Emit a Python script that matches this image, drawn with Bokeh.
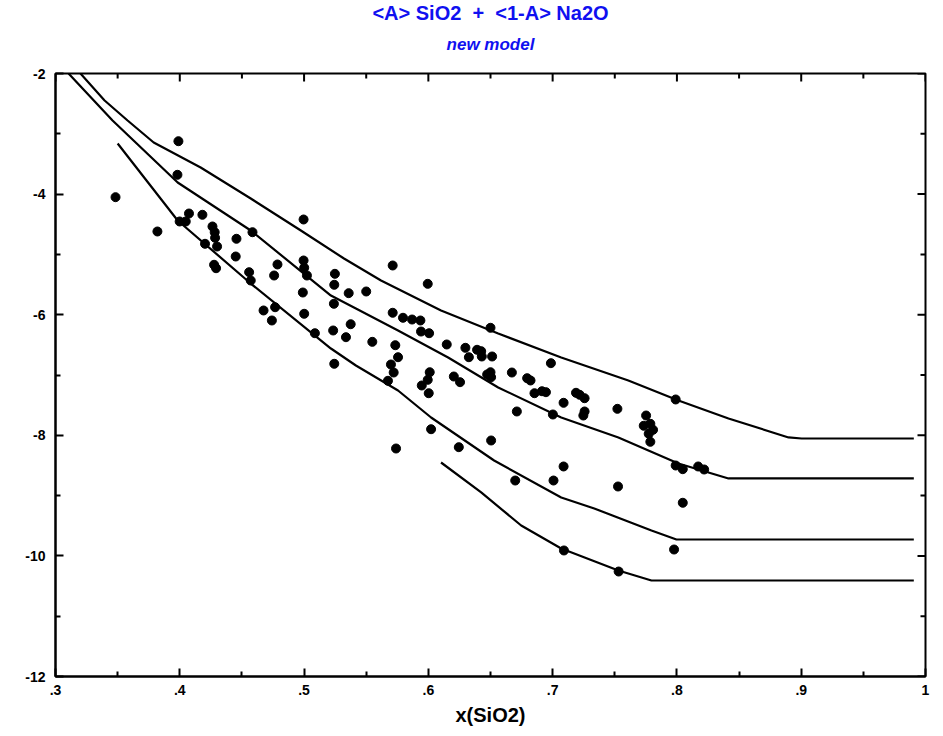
import math
from bokeh.plotting import figure
from bokeh.layouts import column
from bokeh.models import FixedTicker, Range1d
from bokeh.core.properties import value
from bokeh.embed import file_html
from bokeh.resources import INLINE

# ---- axes / ticks ----
x_ticks = [0.3, 0.4, 0.5, 0.6, 0.7, 0.8, 0.9, 1]
x_tick_labels = [".3", ".4", ".5", ".6", ".7", ".8", ".9", "1"]
x_minor = [0.35, 0.45, 0.55, 0.65, 0.75, 0.85, 0.95]
y_ticks = [-12, -10, -8, -6, -4, -2]
y_tick_labels = ["-12", "-10", "-8", "-6", "-4", "-2"]
y_minor = [-11, -9, -7, -5, -3]

title_text = "<A> SiO2 \u00a0+\u00a0 <1-A> Na2O"
subtitle_text = "new model"
x_label = "x(SiO2)"

# ---- model curves ----
c1_x = [0.3201, 0.3395, 0.3580, 0.3790, 0.4168, 0.4571, 0.4974, 0.5321, 0.5619, 0.6102,
        0.6562, 0.7069, 0.7609, 0.8012, 0.8415, 0.8898, 0.9003, 0.9906]
c1_y = [-2.0, -2.448, -2.779, -3.144, -3.559, -4.073, -4.604, -5.068, -5.433, -5.930,
        -6.312, -6.710, -7.091, -7.423, -7.721, -8.036, -8.053, -8.053]

c2_x = [0.3105, 0.3459, 0.3983, 0.4571, 0.5216, 0.5417, 0.5756, 0.6159, 0.6562, 0.7069,
        0.7529, 0.8012, 0.8415, 0.9906]
c2_y = [-2.0, -2.779, -3.808, -4.604, -5.682, -5.897, -6.262, -6.710, -7.207, -7.705,
        -8.036, -8.468, -8.716, -8.716]

c3_x = [0.3500, 0.3983, 0.4571, 0.5216, 0.5417, 0.5756, 0.6022, 0.6529, 0.7069, 0.7335,
        0.7795, 0.7996, 0.9906]
c3_y = [-3.161, -4.438, -5.483, -6.561, -6.842, -7.257, -7.705, -8.418, -9.032, -9.214,
        -9.579, -9.728, -9.728]

c4_x = [0.6102, 0.6425, 0.6747, 0.7069, 0.7529, 0.7795, 0.9906]
c4_y = [-8.451, -8.948, -9.496, -9.877, -10.242, -10.408, -10.408]

# ---- measured points ----
pts_x = [0.3483, 0.3820, 0.3989, 0.3981, 0.3999, 0.4048, 0.4074, 0.4182, 0.4263, 0.4281,
         0.4284, 0.4203, 0.4300, 0.4456, 0.4585, 0.4450, 0.4276, 0.4292, 0.4558, 0.4571,
         0.4996, 0.4786, 0.4996, 0.5001, 0.5023, 0.4759, 0.5248, 0.5243, 0.5359, 0.5500,
         0.5713, 0.4990, 0.5240, 0.4767, 0.4674, 0.4741, 0.5001, 0.5375, 0.5234, 0.5337,
         0.5087, 0.5549, 0.5713, 0.5796, 0.5869, 0.5936, 0.5734, 0.5756, 0.5699, 0.5721,
         0.5675, 0.5243, 0.5995, 0.5941, 0.6006, 0.6148, 0.6298, 0.6326, 0.6392, 0.6425,
         0.6430, 0.6513, 0.6500, 0.6011, 0.5995, 0.5947, 0.6003, 0.6205, 0.6255, 0.6473,
         0.6500, 0.6505, 0.6672, 0.6795, 0.6822, 0.6854, 0.6914, 0.6946, 0.6986, 0.6712,
         0.6022, 0.6245, 0.6505, 0.5740, 0.6699, 0.7188, 0.7217, 0.7257, 0.7088, 0.7257,
         0.7247, 0.7002, 0.7521, 0.7752, 0.7733, 0.7786, 0.7808, 0.7773, 0.7786, 0.7990,
         0.7088, 0.7007, 0.7526, 0.7990, 0.8047, 0.8171, 0.8219, 0.8047, 0.7091, 0.7977,
         0.7531]
pts_y = [-4.051, -4.620, -3.123, -3.680, -4.454, -4.454, -4.322, -4.343, -4.537, -4.632,
         -4.725, -4.824, -4.869, -4.741, -4.632, -5.035, -5.172, -5.229, -5.295, -5.433,
         -4.421, -5.167, -5.101, -5.222, -5.350, -5.350, -5.322, -5.504, -5.643, -5.615,
         -5.184, -5.632, -5.819, -5.876, -5.930, -6.096, -5.985, -6.158, -6.262, -6.373,
         -6.307, -6.450, -5.968, -6.051, -6.080, -6.096, -6.506, -6.705, -6.826, -6.959,
         -7.096, -6.814, -5.488, -6.279, -6.307, -6.494, -6.549, -6.705, -6.582, -6.605,
         -6.693, -6.693, -6.217, -6.954, -7.080, -7.174, -7.302, -7.025, -7.119, -6.992,
         -6.954, -7.036, -6.959, -7.053, -7.091, -7.302, -7.269, -7.285, -6.804, -7.605,
         -7.899, -8.197, -8.086, -8.219, -8.750, -7.295, -7.328, -7.385, -7.461, -7.605,
         -7.672, -7.655, -7.561, -7.672, -7.842, -7.809, -7.909, -7.975, -8.108, -7.406,
         -8.517, -8.750, -8.849, -8.501, -8.562, -8.517, -8.567, -9.119, -9.910, -9.894,
         -10.259]

FONT = "Liberation Sans"
BLUE = "#1010F0"
X0, X1 = 0.3, 1.0
Y0, Y1 = -12, -2
HEAD_H = 57  # height of the heading strip (pixels)

# ---- heading strip (title + subtitle) ----
head = figure(width=943, height=HEAD_H, output_backend="svg", toolbar_location=None,
              x_range=Range1d(X0, X1), y_range=Range1d(0, HEAD_H),
              min_border_left=55, min_border_right=18, min_border_top=0, min_border_bottom=0,
              x_axis_location=None, y_axis_location=None)
head.grid.visible = False
head.outline_line_color = None
head.text(x=[(X0 + X1) / 2], y=[HEAD_H - 12], text=[title_text], text_align="center",
          text_baseline="middle", text_font=value(FONT), text_font_style="bold",
          text_font_size="20px", text_color=BLUE)
head.text(x=[(X0 + X1) / 2], y=[HEAD_H - 44], text=[subtitle_text], text_align="center",
          text_baseline="middle", text_font=value(FONT), text_font_style="bold italic",
          text_font_size="17px", text_color=BLUE)

# ---- main plot ----
p = figure(width=943, height=736 - HEAD_H, output_backend="svg", toolbar_location=None,
           x_range=Range1d(X0, X1), y_range=Range1d(Y0, Y1),
           min_border_left=55, min_border_right=18, min_border_top=73 - HEAD_H,
           min_border_bottom=60,
           background_fill_color="white", border_fill_color="white")
p.grid.visible = False
p.outline_line_color = "black"
p.outline_line_width = 2

xt = FixedTicker(ticks=x_ticks, minor_ticks=x_minor)
yt = FixedTicker(ticks=y_ticks, minor_ticks=y_minor)


def style_axis(ax, ticker):
    ax.ticker = ticker
    ax.axis_line_color = "black"
    ax.axis_line_width = 2
    ax.major_tick_line_color = "black"
    ax.major_tick_line_width = 2
    ax.minor_tick_line_color = "black"
    ax.minor_tick_line_width = 2
    ax.major_tick_in = 8
    ax.major_tick_out = 0
    ax.minor_tick_in = 5
    ax.minor_tick_out = 0
    ax.major_label_text_font = FONT
    ax.major_label_text_font_style = "bold"
    ax.major_label_text_color = "black"
    ax.major_label_text_font_size = "14px"


xa = p.xaxis[0]
style_axis(xa, xt)
xa.major_label_overrides = dict(zip(x_ticks, x_tick_labels))
xa.major_label_standoff = 8
xa.axis_label = x_label
xa.axis_label_text_font = FONT
xa.axis_label_text_font_style = "bold"
xa.axis_label_text_font_size = "20px"
xa.axis_label_text_color = "black"
xa.axis_label_standoff = 6

ya = p.yaxis[0]
style_axis(ya, yt)
ya.major_label_overrides = dict(zip(y_ticks, y_tick_labels))
ya.major_label_standoff = 10

# mirrored inward ticks on the top and right frame edges
p.ray(x=x_ticks, y=[Y1] * len(x_ticks), length=8, length_units="screen",
      angle=-math.pi / 2, line_color="black", line_width=2)
p.ray(x=x_minor, y=[Y1] * len(x_minor), length=5, length_units="screen",
      angle=-math.pi / 2, line_color="black", line_width=2)
p.ray(x=[X1] * len(y_ticks), y=y_ticks, length=8, length_units="screen",
      angle=math.pi, line_color="black", line_width=2)
p.ray(x=[X1] * len(y_minor), y=y_minor, length=5, length_units="screen",
      angle=math.pi, line_color="black", line_width=2)

for cx, cy in [(c1_x, c1_y), (c2_x, c2_y), (c3_x, c3_y), (c4_x, c4_y)]:
    p.line(cx, cy, line_color="black", line_width=2.2)

p.scatter(pts_x, pts_y, size=9, marker="circle", fill_color="black", line_color="black")

layout = column(head, p, spacing=0)
open("out.html", "w").write(file_html(layout, INLINE))
